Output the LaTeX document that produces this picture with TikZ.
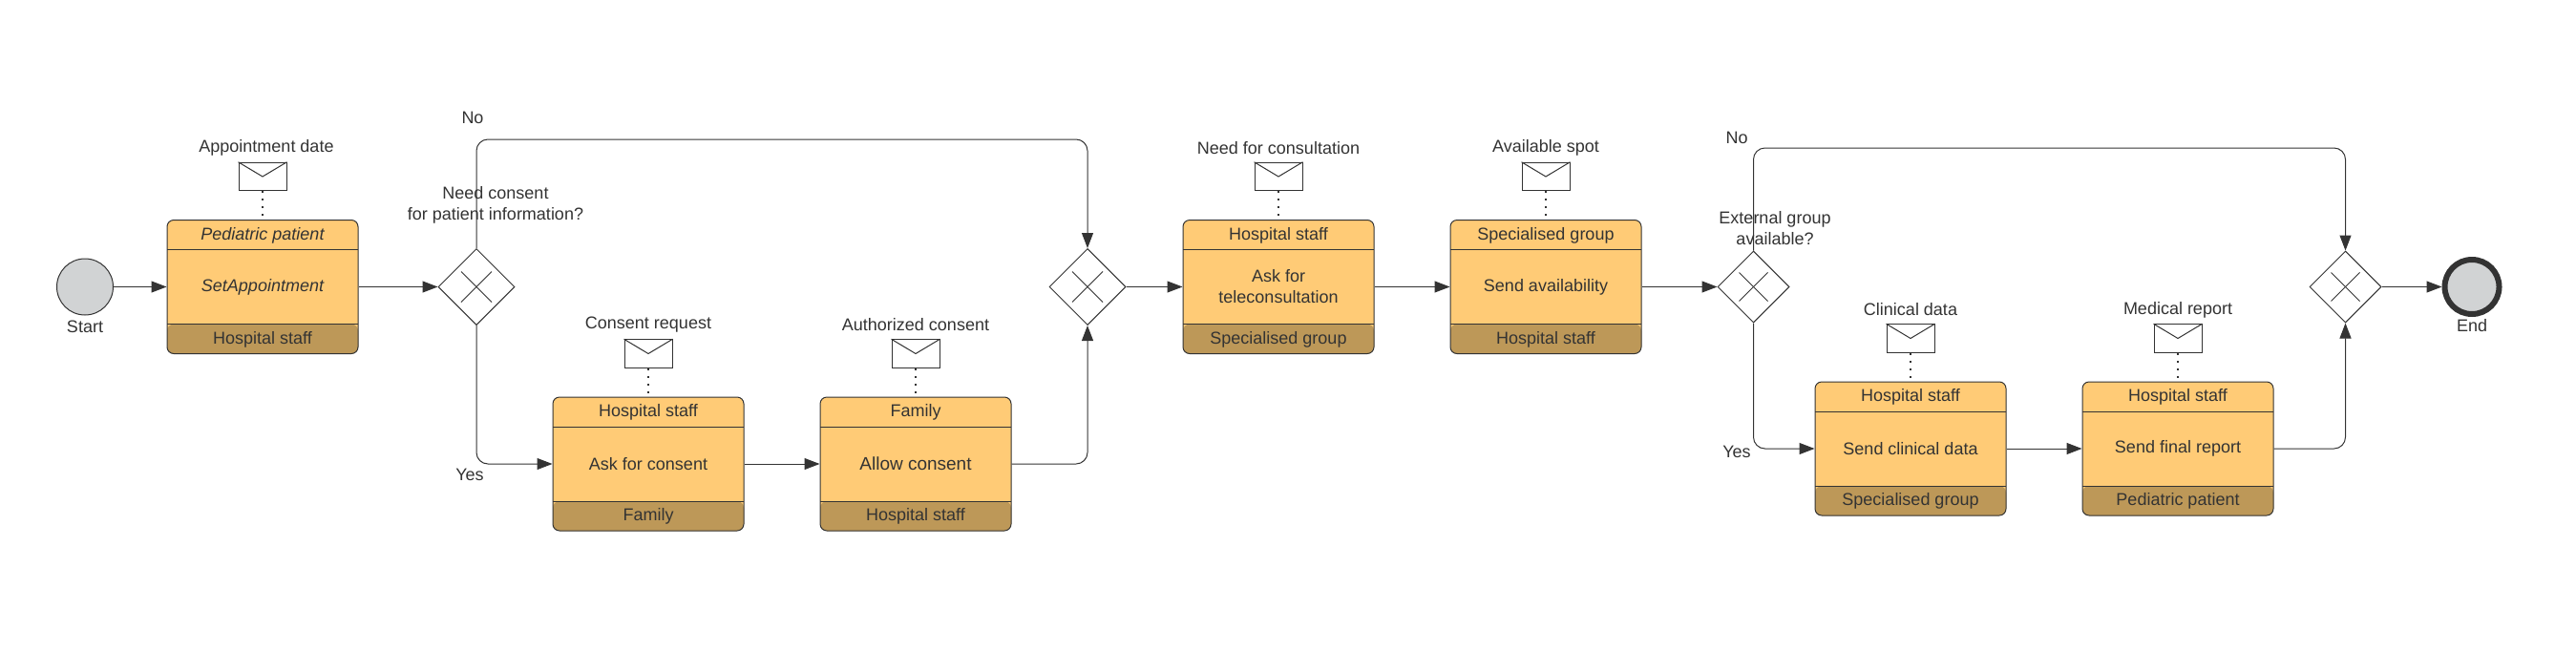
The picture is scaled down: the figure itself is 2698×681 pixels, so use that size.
\documentclass[tikz,border=0pt]{standalone}
\usepackage{fontspec}
\setmainfont{Liberation Sans}
\usetikzlibrary{calc}
\usetikzlibrary{arrows.meta}
\usetikzlibrary{shapes.geometric}
\definecolor{inkgray}{HTML}{333333}
\definecolor{taskfill}{HTML}{FFCB76}
\definecolor{taskband}{HTML}{BD9858}
\definecolor{eventfill}{HTML}{D1D3D4}
\tikzstyle{label}=[inner sep=0pt,text=inkgray,align=center,font=\fontsize{18}{22}\selectfont]
\tikzstyle{flow}=[draw=inkgray,line width=1pt,rounded corners=12pt,-{Triangle[length=16pt,width=12pt]}]
\tikzstyle{taskbox}=[draw=inkgray,line width=1pt,fill=taskfill,rounded corners=7pt,minimum width=200pt,minimum height=140pt,inner sep=0pt,
  path picture={
    \fill[taskband] (path picture bounding box.south west) rectangle ($(path picture bounding box.east)+(0,39)$);
    \draw[inkgray,line width=1pt] ($(path picture bounding box.west)+(0,39)$) -- ($(path picture bounding box.east)+(0,39)$);
    \draw[inkgray,line width=1pt] ($(path picture bounding box.west)+(0,-39)$) -- ($(path picture bounding box.east)+(0,-39)$);
  }]
\tikzstyle{gateway}=[draw=inkgray,line width=1pt,diamond,aspect=1,inner sep=0pt,fill=white]
\tikzstyle{envelope}=[draw=inkgray,line width=1pt,fill=white,minimum width=50pt,minimum height=29.5pt,inner sep=0pt]
\tikzstyle{association}=[draw=inkgray,line width=1.3pt,dash pattern=on 2pt off 6pt]
\newcommand{\drawtask}[6]{
\node[taskbox] (#1) at (#2,#3) {};
\node[label] (#1top) at ($(#1)+(0,-54)$) {#4};
\node[label] (#1mid) at ($(#1)+(0,0)$) {#5};
\node[label] (#1bottom) at ($(#1)+(0,55)$) {#6};
}
\newcommand{\drawmessage}[4][0]{
\node[envelope] (#2) at ($(#3)+(0,-115.5)$) {};
\draw[inkgray,line width=1pt] (#2.north west) -- (#2.center) -- (#2.north east);
\draw[association] (#2.south) -- (#3.north);
\node[label] (#2text) at ($(#2)+(#1,-30)$) {#4};
}
\newcommand{\drawgateway}[4]{
\node[gateway,minimum size=#4pt] (#1) at (#2,#3) {};
\draw[inkgray,line width=.8pt] ($(#1)+(-0.2*#4,-0.2*#4)$) -- ($(#1)+(0.2*#4,0.2*#4)$);
\draw[inkgray,line width=.8pt] ($(#1)+(-0.2*#4,0.2*#4)$) -- ($(#1)+(0.2*#4,-0.2*#4)$);
}
\begin{document}
\begin{tikzpicture}[x=1pt,y=-1pt]
  \useasboundingbox (0,0) rectangle (2698,681);
  % start and end
  \node[circle,draw=inkgray,line width=1pt,fill=eventfill,minimum size=59pt,inner sep=0pt] (start) at (89,300.5) {};
  \node[circle,draw=inkgray,line width=6pt,fill=eventfill,minimum size=57pt,inner sep=0pt] (end) at (2589,300.5) {};
  \node[label] (starttext) at (89,342) {Start};
  \node[label] (endtext) at (2589,341) {End};
  % tasks
  \drawtask{appointment}{275}{300.5}{\itshape Pediatric patient}{\itshape SetAppointment}{Hospital staff}
  \drawtask{ask}{679}{486}{Hospital staff}{Ask for consent}{Family}
  \drawtask{allow}{959}{486}{Family}{\fontsize{19}{24}\selectfont Allow consent}{Hospital staff}
  \drawtask{tele}{1339}{300.5}{Hospital staff}{Ask for\\teleconsultation}{Specialised group}
  \drawtask{avail}{1619}{300.5}{Specialised group}{Send availability}{Hospital staff}
  \drawtask{clinical}{2001}{470}{Hospital staff}{Send clinical data}{Specialised group}
  \drawtask{final}{2281}{470}{Hospital staff}{Send final report}{Pediatric patient}
  % messages
  \drawmessage[4]{datemsg}{appointment}{Appointment date}
  \drawmessage{requestmsg}{ask}{Consent request}
  \drawmessage{authmsg}{allow}{Authorized consent}
  \drawmessage{needmsg}{tele}{Need for consultation}
  \drawmessage{spotmsg}{avail}{Available spot}
  \drawmessage{clinicalmsg}{clinical}{Clinical data}
  \drawmessage{reportmsg}{final}{Medical report}
  % gateways
  \drawgateway{consent}{499}{300.5}{80}
  \drawgateway{merge}{1139}{300.5}{80}
  \drawgateway{external}{1836.5}{300.5}{75}
  \drawgateway{done}{2456.5}{300.5}{75}
  \node[label] (consenttext) at (519,215) {Need consent\\for patient information?};
  \node[label] (externaltext) at (1859,239) {External group\\available?};
  % free ends of the upper paths
  \coordinate (upperA) at (800,146);
  \coordinate (upperB) at (2100,155);
  % connectors
  \draw[flow] (start) -- (appointment);
  \draw[flow] (appointment) -- (consent);
  \draw[flow] (consent.south) |- (ask.west);
  \draw[flow] (ask) -- (allow);
  \draw[flow] (allow.east) -| (merge.south);
  \draw[flow] (consent.north) |- (upperA) -| (merge.north);
  \draw[flow] (merge) -- (tele);
  \draw[flow] (tele) -- (avail);
  \draw[flow] (avail) -- (external);
  \draw[flow] (external.south) |- (clinical.west);
  \draw[flow] (clinical) -- (final);
  \draw[flow] (final.east) -| (done.south);
  \draw[flow] (external.north) |- (upperB) -| (done.north);
  \draw[flow] (done) -- (end);
  % branch labels
  \node[label] (noA) at (495,123) {No};
  \node[label] (yesA) at (492,497) {Yes};
  \node[label] (noB) at (1819,144) {No};
  \node[label] (yesB) at (1819,473) {Yes};
\end{tikzpicture}
\end{document}
